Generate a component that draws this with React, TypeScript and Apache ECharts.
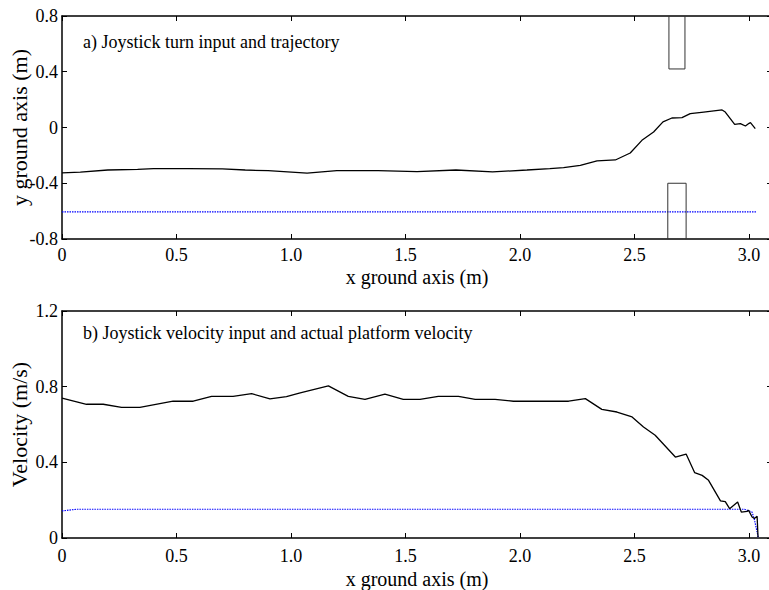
import React, { useEffect, useRef } from "react";
import * as echarts from "echarts";

// ---- Data ----
const trajX = [0, 0.08, 0.2, 0.33, 0.4, 0.55, 0.7, 0.8, 0.9, 1.07, 1.2, 1.38, 1.55, 1.72, 1.88, 2.03, 2.13, 2.19, 2.263, 2.336, 2.416, 2.481, 2.532, 2.583, 2.624, 2.663, 2.707, 2.743, 2.802, 2.882, 2.896, 2.937, 2.962, 2.984, 3.0, 3.006, 3.027];
const trajY = [-0.325, -0.32, -0.305, -0.3, -0.295, -0.295, -0.297, -0.305, -0.31, -0.327, -0.31, -0.31, -0.316, -0.305, -0.319, -0.305, -0.295, -0.288, -0.271, -0.24, -0.233, -0.183, -0.092, -0.032, 0.04, 0.068, 0.071, 0.1, 0.111, 0.126, 0.111, 0.023, 0.028, 0.011, 0.03, 0.035, -0.008];

const turnX = [0, 3.03];
const turnY = [-0.605, -0.605];

const obstacleTopX = [2.65, 2.65, 2.72, 2.72];
const obstacleTopY = [0.8, 0.42, 0.42, 0.8];
const obstacleBotX = [2.645, 2.645, 2.725, 2.725];
const obstacleBotY = [-0.8, -0.4, -0.4, -0.8];

const velX = [0, 0.107, 0.18, 0.26, 0.34, 0.485, 0.573, 0.653, 0.747, 0.828, 0.908, 0.98, 1.04, 1.163, 1.25, 1.323, 1.41, 1.49, 1.563, 1.643, 1.731, 1.804, 1.891, 1.971, 2.13, 2.212, 2.285, 2.357, 2.423, 2.489, 2.539, 2.59, 2.678, 2.725, 2.762, 2.795, 2.823, 2.875, 2.896, 2.915, 2.95, 2.966, 2.991, 2.998, 3.013, 3.023, 3.035, 3.039];
const velY = [0.74, 0.707, 0.707, 0.691, 0.691, 0.723, 0.723, 0.749, 0.749, 0.763, 0.735, 0.747, 0.767, 0.804, 0.749, 0.733, 0.761, 0.733, 0.733, 0.749, 0.749, 0.733, 0.733, 0.723, 0.723, 0.723, 0.737, 0.68, 0.666, 0.64, 0.587, 0.543, 0.428, 0.444, 0.346, 0.331, 0.305, 0.196, 0.192, 0.155, 0.19, 0.137, 0.141, 0.146, 0.111, 0.103, 0.115, 0.005];

const joyVelX = [0, 0.063, 2.98, 3.013, 3.023, 3.035, 3.04];
const joyVelY = [0.143, 0.152, 0.152, 0.137, 0.098, 0.032, 0];

const xTitle = "x ground axis (m)";
const yTitleTop = "y ground axis (m)";
const yTitleBot = "Velocity (m/s)";
const noteTop = "a) Joystick turn input and trajectory";
const noteBot = "b) Joystick velocity input and actual platform velocity";

const FONT = "Liberation Serif";
const zip = (xs: number[], ys: number[]) => xs.map((x, i) => [x, ys[i]]);

export default function App() {
  const ref = useRef<HTMLDivElement>(null);
  useEffect(() => {
    if (!ref.current) return;
    const chart = echarts.init(ref.current, undefined, { renderer: "svg" });
    const axisLine = { show: true, onZero: false, lineStyle: { color: "#000", width: 1.5 } };
    const tick = { show: true, inside: true, length: 5, lineStyle: { color: "#000", width: 1 } };
    const label = { color: "#000", fontFamily: FONT, fontSize: 18 };
    const xFmt = (v: number) => (v === 0 ? "0" : v.toFixed(1));
    const mkX = (grid: number, margin: number, gap: number) => [
      {
        type: "value", gridIndex: grid, min: 0, max: 3.1, interval: 0.5, position: "bottom",
        axisLine, axisTick: tick, splitLine: { show: false },
        axisLabel: { ...label, margin, formatter: xFmt, showMaxLabel: false },
        name: xTitle, nameLocation: "middle", nameGap: gap, nameMoveOverlap: false,
        nameTextStyle: { color: "#000", fontFamily: FONT, fontSize: 20 },
      },
      {
        type: "value", gridIndex: grid, min: 0, max: 3.1, interval: 0.5, position: "top",
        axisLine, axisTick: tick, splitLine: { show: false }, axisLabel: { show: false },
      },
    ];
    const mkY = (grid: number, min: number, max: number, name: string) => [
      {
        type: "value", gridIndex: grid, min, max, interval: 0.4, position: "left",
        axisLine, axisTick: tick, splitLine: { show: false },
        axisLabel: { ...label, margin: 4 },
        name, nameLocation: "middle", nameGap: 32, nameRotate: 90, nameMoveOverlap: false,
        nameTextStyle: { color: "#000", fontFamily: FONT, fontSize: 22 },
      },
      {
        type: "value", gridIndex: grid, min, max, interval: 0.4, position: "right",
        axisLine, axisTick: tick, splitLine: { show: false }, axisLabel: { show: false },
      },
    ];
    const line = (xi: number, yi: number, data: number[][], color: string, width: number, type: any = "solid") => ({
      type: "line", xAxisIndex: xi, yAxisIndex: yi, data, showSymbol: false, symbol: "none",
      lineStyle: { color, width, type }, silent: true,
    });
    chart.setOption({
      animation: false,
      backgroundColor: "#fff",
      grid: [
        { left: 62, top: 16, width: 710, height: 223, containLabel: false, outerBoundsMode: "none" },
        { left: 62, top: 311, width: 710, height: 227, containLabel: false, outerBoundsMode: "none" },
      ],
      xAxis: [...mkX(0, 7, 28), ...mkX(1, 9, 31)],
      yAxis: [...mkY(0, -0.8, 0.8, yTitleTop), ...mkY(1, 0, 1.2, yTitleBot)],
      series: [
        line(0, 0, zip(turnX, turnY), "#0000ff", 1.2, [1.5, 1]),
        line(0, 0, zip(obstacleTopX, obstacleTopY), "#333", 1),
        line(0, 0, zip(obstacleBotX, obstacleBotY), "#333", 1),
        line(0, 0, zip(trajX, trajY), "#000", 1.3),
        line(2, 2, zip(joyVelX, joyVelY), "#0000ff", 1.2, [1.5, 1]),
        line(2, 2, zip(velX, velY), "#000", 1.3),
      ],
      graphic: [
        { type: "text", x: 83, y: 42, style: { text: noteTop, fill: "#000", font: `18px "${FONT}"`, verticalAlign: "middle" } },
        { type: "text", x: 83, y: 333, style: { text: noteBot, fill: "#000", font: `18px "${FONT}"`, verticalAlign: "middle" } },
      ],
    });
    return () => chart.dispose();
  }, []);
  return <div ref={ref} style={{ position: "fixed", left: 0, top: 0, width: 769, height: 590 }} />;
}
